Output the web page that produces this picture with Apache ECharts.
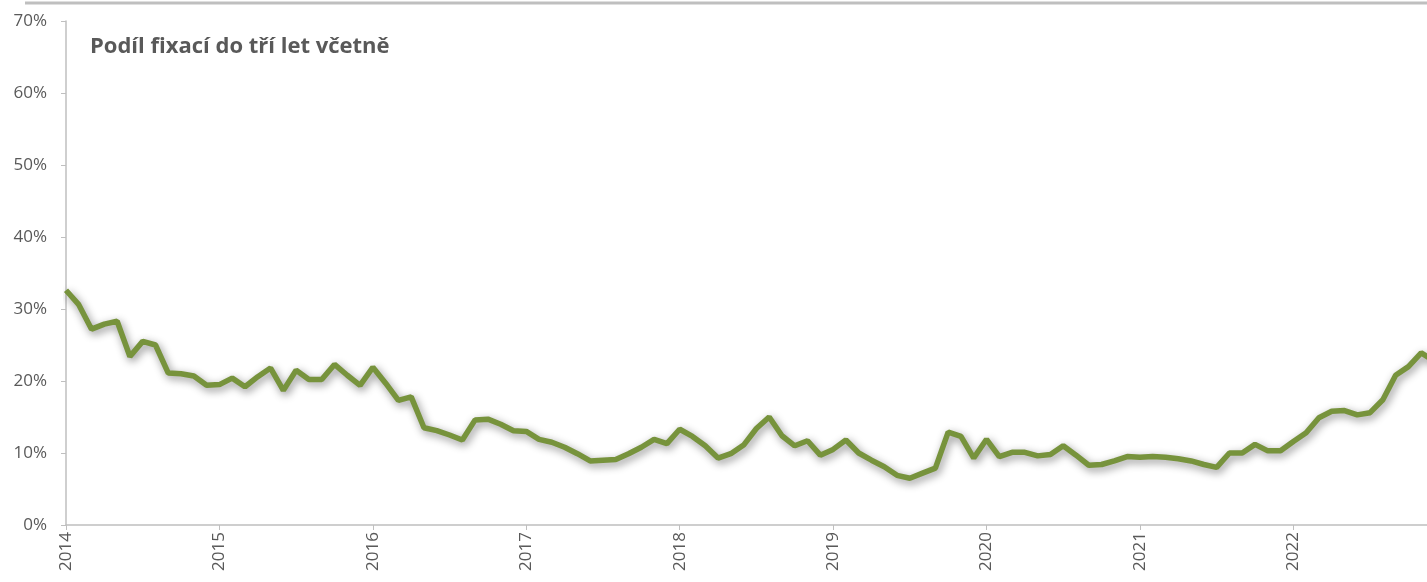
<!DOCTYPE html>
<html>
<head>
<meta charset="utf-8">
<script src="https://cdn.jsdelivr.net/npm/echarts@6/dist/echarts.min.js"></script>
<style>
html, body { margin: 0; padding: 0; background: #fff; }
#main { width: 1427px; height: 582px; }
</style>
</head>
<body>
<div id="main"></div>
<script>
// roky na ose x
var years = ['2014', '2015', '2016', '2017', '2018', '2019', '2020', '2021', '2022'];

// měsíční hodnoty (%) po letech
var v2014 = [32.6, 30.6, 27.2, 27.9, 28.3, 23.4, 25.5, 25.0, 21.1, 21.0, 20.7, 19.4];
var v2015 = [19.5, 20.4, 19.2, 20.6, 21.8, 18.7, 21.5, 20.2, 20.2, 22.3, 20.8, 19.4];
var v2016 = [21.9, 19.7, 17.3, 17.8, 13.5, 13.1, 12.5, 11.8, 14.6, 14.7, 14.0, 13.1];
var v2017 = [13.0, 11.9, 11.5, 10.8, 9.9, 8.9, 9.0, 9.1, 9.9, 10.8, 11.9, 11.3];
var v2018 = [13.3, 12.3, 11.0, 9.3, 9.9, 11.1, 13.4, 15.0, 12.4, 11.0, 11.7, 9.7];
var v2019 = [10.5, 11.8, 10.0, 9.0, 8.1, 6.9, 6.5, 7.2, 7.9, 12.9, 12.3, 9.3];
var v2020 = [11.9, 9.5, 10.1, 10.1, 9.6, 9.8, 11.0, 9.7, 8.3, 8.4, 8.9, 9.5];
var v2021 = [9.4, 9.5, 9.4, 9.2, 8.9, 8.4, 8.0, 10.0, 10.0, 11.2, 10.3, 10.3];
var v2022 = [11.6, 12.8, 14.9, 15.8, 15.9, 15.3, 15.6, 17.4, 20.8, 22.0, 23.9, 22.8];

var values = [].concat(v2014, v2015, v2016, v2017, v2018, v2019, v2020, v2021, v2022);

var months = [];
years.forEach(function (y) {
    for (var m = 1; m <= 12; m++) {
        months.push(y + '-' + (m < 10 ? '0' + m : m));
    }
});

var chart = echarts.init(document.getElementById('main'));
var option = {
    animation: false,
    backgroundColor: '#ffffff',
    title: {
        text: 'Podíl fixací do tří let včetně',
        left: 85,
        top: 31,
        textStyle: {
            fontFamily: 'Open Sans',
            fontWeight: 'bold',
            fontSize: 22,
            color: '#595959'
        }
    },
    graphic: [{
        type: 'line',
        shape: { x1: 25, y1: 3, x2: 1427, y2: 3 },
        style: { stroke: '#bfbfbf', lineWidth: 3 }
    }],
    grid: { left: 66, right: -7, top: 21, bottom: 57, outerBoundsMode: 'none' },
    xAxis: {
        type: 'category',
        data: months,
        boundaryGap: false,
        axisLine: { lineStyle: { color: '#bfbfbf', width: 1.5 } },
        axisTick: { interval: 11, length: 5, lineStyle: { color: '#bfbfbf' } },
        axisLabel: {
            interval: 11,
            rotate: 90,
            margin: 7,
            fontFamily: 'Open Sans',
            fontSize: 17,
            color: '#595959',
            formatter: function (v) { return v.slice(0, 4); }
        },
        splitLine: { show: false }
    },
    yAxis: {
        type: 'value',
        min: 0,
        max: 70,
        interval: 10,
        axisLine: { show: true, lineStyle: { color: '#bfbfbf', width: 1.5 } },
        axisTick: { show: true, length: 5, lineStyle: { color: '#bfbfbf' } },
        axisLabel: {
            margin: 19,
            fontFamily: 'Open Sans',
            fontSize: 17,
            color: '#595959',
            formatter: '{value}%'
        },
        splitLine: { show: false }
    },
    series: [{
        name: 'Podíl fixací do tří let včetně',
        type: 'line',
        data: values,
        symbol: 'none',
        lineStyle: {
            color: '#77933c',
            width: 5.5,
            shadowColor: 'rgba(0,0,0,0.45)',
            shadowBlur: 8,
            shadowOffsetX: 2,
            shadowOffsetY: 3
        }
    }]
};
option && chart.setOption(option);
</script>
</body>
</html>
